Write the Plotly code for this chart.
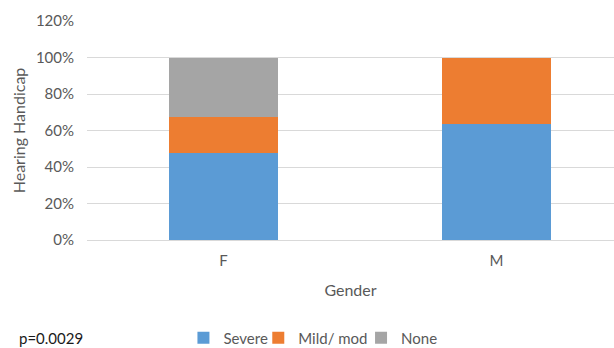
import plotly.graph_objects as go

# Share of hearing handicap levels by gender
genders = ["F", "M"]
severe = [0.477, 0.638]
mild_mod = [0.198, 0.362]
none = [0.325, 0.0]

series = [
    ("Severe", severe, "#5B9BD5", "legend"),
    ("Mild/ mod", mild_mod, "#ED7D31", "legend2"),
    ("None", none, "#A5A5A5", "legend3"),
]

FONT = "Lato, 'Open Sans', sans-serif"
GREY = "#595959"

fig = go.Figure()
for name, vals, color, leg in series:
    fig.add_trace(go.Bar(
        x=genders, y=vals, name=name,
        marker=dict(color=color, line=dict(width=0)),
        width=0.40, legend=leg,
    ))

# one legend box per entry so the entries can sit close together
legend_x = [0.183, 0.325, 0.52]
legend_common = dict(
    orientation="h", xanchor="left", yref="container", y=0.029, yanchor="middle",
    font=dict(size=15, color=GREY), itemwidth=30, bgcolor="rgba(0,0,0,0)",
)

fig.update_layout(
    barmode="stack",
    width=614, height=348,
    margin=dict(l=87, r=0, t=21, b=108, autoexpand=False),
    paper_bgcolor="white", plot_bgcolor="white",
    font=dict(family=FONT, size=15, color=GREY),
    showlegend=True,
    legend=dict(x=legend_x[0], **legend_common),
    legend2=dict(x=legend_x[1], **legend_common),
    legend3=dict(x=legend_x[2], **legend_common),
    xaxis=dict(
        type="category", range=[-0.5, 1.43], automargin=False,
        showgrid=False, showline=False, ticks="", ticklabelstandoff=10,
        tickfont=dict(size=15, color=GREY),
        title=dict(text="Gender", font=dict(size=16, color=GREY), standoff=16),
    ),
    yaxis=dict(
        range=[0, 1.2], dtick=0.2, tickformat=".0%", automargin=False,
        showgrid=True, gridcolor="#D9D9D9", gridwidth=1,
        zeroline=True, zerolinecolor="#D9D9D9", zerolinewidth=1,
        showline=False, ticks="", ticklabelstandoff=12,
        tickfont=dict(size=15, color=GREY),
        title=dict(text="Hearing Handicap", font=dict(size=16, color=GREY), standoff=6),
    ),
    annotations=[dict(
        text="p=0.0029", xref="paper", yref="paper",
        x=-0.133, y=-0.448, xanchor="left", yanchor="middle",
        showarrow=False, font=dict(size=15, color="#1a1a1a", family=FONT),
    )],
)

fig.write_html("out.html")
